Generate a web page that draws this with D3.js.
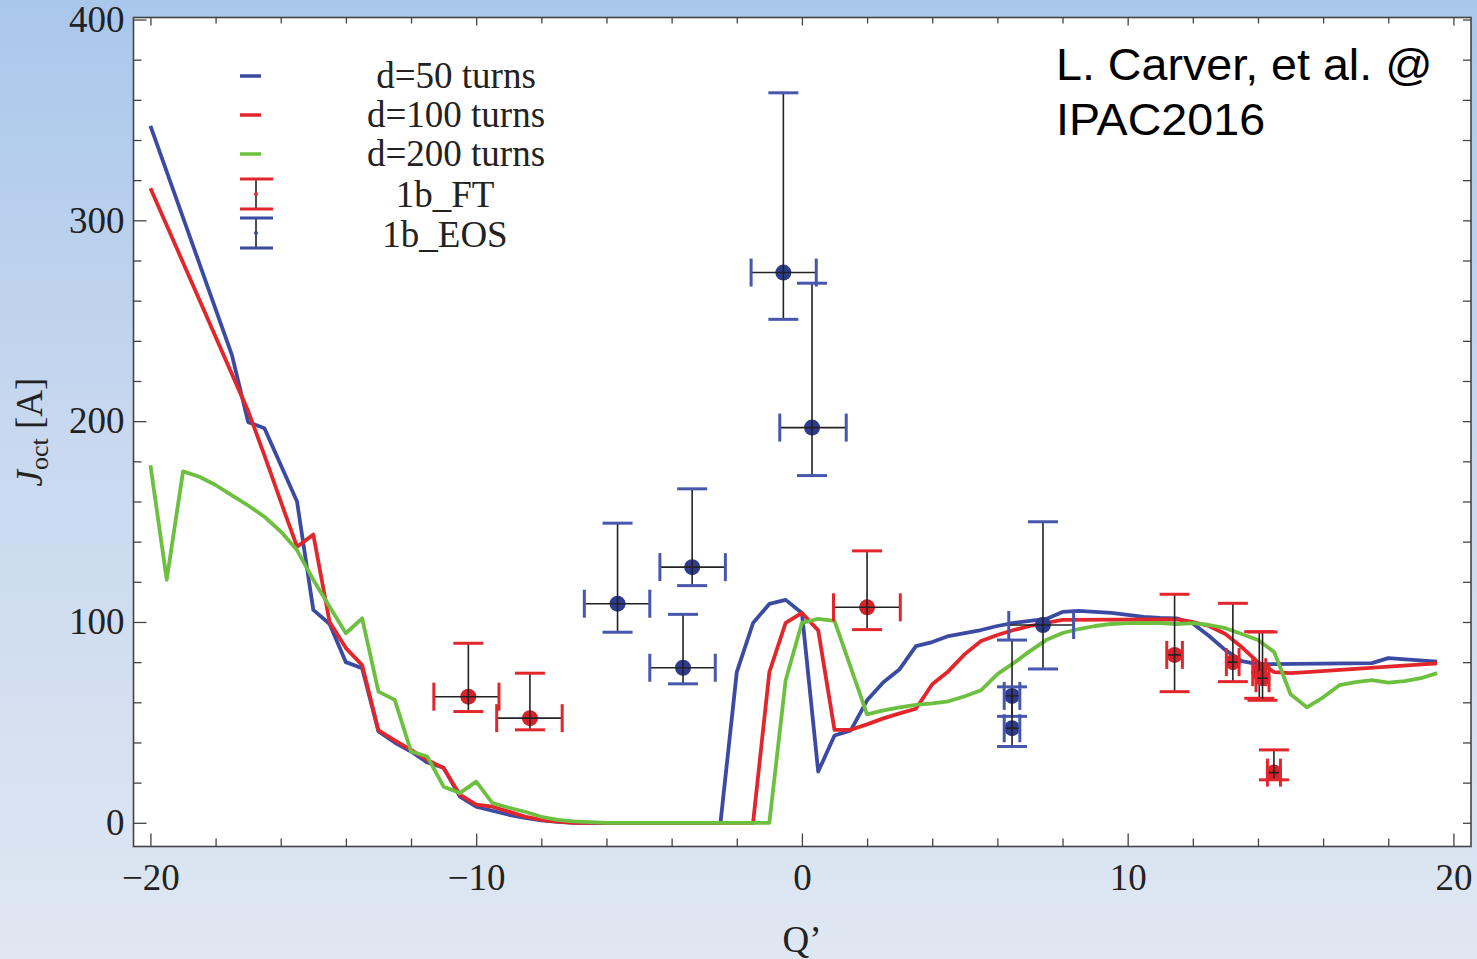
<!DOCTYPE html>
<html>
<head>
<meta charset="utf-8">
<script src="https://cdn.jsdelivr.net/npm/d3@7"></script>
<style>
  html, body { margin: 0; padding: 0; }
  body { width: 1477px; height: 959px; overflow: hidden; }
  svg { display: block; }
  .axis text { font-family: "Liberation Serif", "DejaVu Serif", serif; font-size: 37px; fill: #222; }
  .axis line { stroke: #444; stroke-width: 1.3; }
</style>
</head>
<body>
<div id="main"></div>
<script>
// simulated thresholds, Q' -> J_oct [A]
var q50 = [-20, -17.5, -17, -16.5, -15.5, -15, -14.5, -14, -13.5, -13, -12.5, -12, -11.5, -11, -10.5, -10, -9.5, -9, -8.5, -8,
           -7.5, -7, -2.5, -2, -1.5, -1, -0.5, 0, 0.5, 1, 1.5, 2, 2.5, 3, 3.5, 4, 4.5, 5, 5.5, 6,
           6.5, 7, 7.5, 8, 8.5, 9, 9.5, 10, 10.5, 11, 11.5, 12, 12.5, 13, 13.5, 14, 17.5, 18, 19.5];
var j50 = [347, 233, 199.5, 196.5, 160, 106, 99, 80, 77, 45.5, 40, 35.5, 30, 27.5, 13, 8, 6, 4, 2.5, 1.2,
           0.5, 0, 0, 75, 99.5, 109, 111, 104.5, 25.5, 43.5, 46, 61, 70, 76.5, 88, 90, 93, 94.5, 96, 98,
           99.5, 100.5, 101.5, 105, 105.5, 105, 104.5, 103.5, 102.5, 102, 101.8, 99.3, 93, 86, 80.5, 79, 79.5, 82, 80.3];

var q100 = [-20, -18, -17, -16.5, -16, -15.5, -15, -14.5, -14, -13.5, -13, -12.5, -12, -11.5, -11, -10.5, -10, -9.5, -9, -8.5,
            -8, -7.5, -7, -1.5, -1, -0.5, 0, 0.5, 1, 1.5, 2, 2.5, 3, 3.5, 4, 4.5, 5, 5.5, 6, 6.5,
            7, 7.5, 8, 11.5, 12, 12.5, 13, 13.5, 14, 14.5, 15, 15.5, 19.5];
var j100 = [316, 242, 205, 183, 160, 137.5, 143.5, 100, 87, 78.5, 46, 41, 36.3, 31.3, 27.2, 14, 9, 8, 5.6, 3.1,
            1.5, 0.6, 0, 0, 75, 99.6, 104.5, 95.8, 46.3, 46.3, 49, 52, 54.5, 56.8, 69, 75.5, 84, 90.5, 93.5, 96,
            98, 99.5, 101, 101.3, 100, 98, 94, 87.5, 80, 75, 74.5, 75, 79.4];

var q200 = [-20, -19.5, -19, -18.5, -18, -17.5, -17, -16.5, -16, -15.5, -15, -14.5, -14, -13.5, -13, -12.5, -12, -11.5, -11, -10.5,
            -10, -9.5, -9, -8.5, -8, -7.5, -7, -6.5, -6, -1, -0.5, 0, 0.5, 1, 2, 2.5, 3, 3.5, 4, 4.5,
            5, 5.5, 6, 6.5, 7, 7.5, 8, 8.5, 9, 9.5, 10, 11, 11.5, 12, 12.5, 13, 13.5, 14, 14.5, 15,
            15.5, 16, 16.5, 17, 17.5, 18, 18.5, 19, 19.5];
var j200 = [178, 121, 175, 172.3, 168.2, 163, 158, 152.4, 145, 135.8, 121, 107.6, 94.4, 101.8, 65.3, 61.2, 35.5, 33, 18, 14.8,
            20.5, 9.8, 7.5, 5.5, 3, 1.5, 0.7, 0.3, 0, 0, 71, 99.6, 101.5, 100.6, 54, 56, 57.5, 58.7, 59.5, 60.5,
            63, 66, 74, 79.5, 85.5, 91, 94.5, 96.5, 98, 99, 99.4, 99.5, 99, 99.4, 98.5, 96.9, 94, 91, 85, 64,
            57.5, 62.5, 68.5, 70, 71, 69.8, 70.5, 72, 74.5];

// measurements: centre, horizontal error range, vertical error range
var ftQ   = [-10.24, -8.35, 2.0, 11.44, 13.23, 14.04, 14.14, 14.49];
var ftJ   = [62.8, 52.1, 107.3, 83.6, 80, 75, 72, 25];
var ftQlo = [-11.3, -9.37, 0.97, 11.2, 13.03, 13.84, 13.94, 14.29];
var ftQhi = [-9.3, -7.36, 3.02, 11.68, 13.42, 14.24, 14.34, 14.69];
var ftJlo = [55.4, 46.3, 96.2, 65.3, 70.3, 62, 61, 21.4];
var ftJhi = [89.4, 74.5, 135.4, 113.8, 109.3, 95.2, 95, 36.3];

var eosQ   = [-0.57, 0.31, -5.66, -3.37, -3.65, 6.45, 6.45, 7.4];
var eosJ   = [274, 196.8, 109.1, 127.3, 77.2, 63.2, 47.1, 98.5];
var eosQlo = [-1.56, -0.68, -6.68, -4.36, -4.67, 6.21, 6.21, 6.35];
var eosQhi = [0.44, 1.36, -4.67, -2.35, -2.66, 6.69, 6.69, 8.34];
var eosJlo = [250.7, 172.9, 94.9, 118.1, 69.2, 53, 38, 76.6];
var eosJhi = [363.5, 268.7, 149.2, 166.3, 103.8, 91, 67.7, 149.9];

var xMajor = [-20, -10, 0, 10, 20];
var xMinor = [-18, -16, -14, -12, -8, -6, -4, -2, 2, 4, 6, 8, 12, 14, 16, 18];
var yMajor = [0, 100, 200, 300, 400];
var yMinor = [20, 40, 60, 80, 120, 140, 160, 180, 220, 240, 260, 280, 320, 340, 360, 380];
var legendLabels = ["d=50 turns", "d=100 turns", "d=200 turns", "1b_FT", "1b_EOS"];

var BLUE = "#3b4aa3", RED = "#e2262c", GREEN = "#6dbf3f";

function zip(q, j) { return q.map(function(v, i) { return {q: v, j: j[i]}; }); }
function points(q, j, qlo, qhi, jlo, jhi) {
    return q.map(function(v, i) { return {q: v, j: j[i], qlo: qlo[i], qhi: qhi[i], jlo: jlo[i], jhi: jhi[i]}; });
}

var svg = d3.select('#main').append('svg')
    .attr('width', 1477)
    .attr('height', 959);

var grad = svg.append("defs").append("linearGradient")
    .attr("id", "bg").attr("x1", 0).attr("y1", 0).attr("x2", 0).attr("y2", 1);
grad.append("stop").attr("offset", "0%").attr("stop-color", "#a9c7eb");
grad.append("stop").attr("offset", "45%").attr("stop-color", "#c8d8ef");
grad.append("stop").attr("offset", "100%").attr("stop-color", "#dfe7f2");

svg.append("rect").attr("width", 1477).attr("height", 959).attr("fill", "url(#bg)");

var frame = {left: 133.5, top: 17.5, right: 1471, bottom: 846.5};
var width = frame.right - frame.left,
    height = frame.bottom - frame.top;

var x = d3.scaleLinear().domain([-20.52, 20.54]).range([0, width]);
var y = d3.scaleLinear().domain([-11.8, 401]).range([height, 0]);

var g = svg.append("g").attr("transform", "translate(" + frame.left + "," + frame.top + ")");

g.append("rect").attr("width", width).attr("height", height).attr("fill", "#fff");

// ticks, all pointing inward
function noDomain(sel) { sel.select(".domain").remove(); }

g.append("g").attr("class", "axis")
    .attr("transform", "translate(0," + height + ")")
    .call(d3.axisBottom(x).tickValues(xMajor).tickSizeInner(-13).tickSizeOuter(0).tickPadding(17)
        .tickFormat(function(d) { return d < 0 ? "\u2212" + Math.abs(d) : d; }))
    .call(noDomain);
g.append("g").attr("class", "axis")
    .attr("transform", "translate(0," + height + ")")
    .call(d3.axisBottom(x).tickValues(xMinor).tickSizeInner(-8).tickSizeOuter(0).tickFormat(""))
    .call(noDomain);
g.append("g").attr("class", "axis")
    .call(d3.axisTop(x).tickValues(xMajor).tickSizeInner(-8).tickSizeOuter(0).tickFormat(""))
    .call(noDomain);
g.append("g").attr("class", "axis")
    .call(d3.axisTop(x).tickValues(xMinor).tickSizeInner(-6).tickSizeOuter(0).tickFormat(""))
    .call(noDomain);

g.append("g").attr("class", "axis")
    .call(d3.axisLeft(y).tickValues(yMajor).tickSizeInner(-13).tickSizeOuter(0).tickPadding(9))
    .call(noDomain);
g.append("g").attr("class", "axis")
    .call(d3.axisLeft(y).tickValues(yMinor).tickSizeInner(-8).tickSizeOuter(0).tickFormat(""))
    .call(noDomain);
g.append("g").attr("class", "axis")
    .attr("transform", "translate(" + width + ",0)")
    .call(d3.axisRight(y).tickValues(yMajor.concat(yMinor)).tickSizeInner(-8).tickSizeOuter(0).tickFormat(""))
    .call(noDomain);

g.append("rect").attr("width", width).attr("height", height)
    .attr("fill", "none").attr("stroke", "#444").attr("stroke-width", 1.6);

// simulation curves
var line = d3.line()
    .x(function(d) { return x(d.q); })
    .y(function(d) { return y(d.j); });

[[zip(q50, j50), BLUE], [zip(q100, j100), RED], [zip(q200, j200), GREEN]].forEach(function(s) {
    g.append("path")
        .datum(s[0])
        .attr("fill", "none")
        .attr("stroke", s[1])
        .attr("stroke-linejoin", "round")
        .attr("stroke-width", 3.8)
        .attr("d", line);
});

// error bars
function errorBars(data, col, dot) {
    var e = g.append("g").selectAll("g").data(data).enter().append("g");
    e.append("circle")
        .attr("cx", function(d) { return x(d.q); })
        .attr("cy", function(d) { return y(d.j); })
        .attr("r", 8).attr("fill", dot);
    e.append("line")
        .attr("x1", function(d) { return x(d.qlo); }).attr("x2", function(d) { return x(d.qhi); })
        .attr("y1", function(d) { return y(d.j); }).attr("y2", function(d) { return y(d.j); })
        .attr("stroke", "#222").attr("stroke-width", 1.6);
    e.append("line")
        .attr("x1", function(d) { return x(d.q); }).attr("x2", function(d) { return x(d.q); })
        .attr("y1", function(d) { return y(d.jlo); }).attr("y2", function(d) { return y(d.jhi); })
        .attr("stroke", "#222").attr("stroke-width", 1.6);
    ["qlo", "qhi"].forEach(function(k) {
        e.append("line")
            .attr("x1", function(d) { return x(d[k]); }).attr("x2", function(d) { return x(d[k]); })
            .attr("y1", function(d) { return y(d.j) - 14; }).attr("y2", function(d) { return y(d.j) + 14; })
            .attr("stroke", col).attr("stroke-width", 3);
    });
    ["jlo", "jhi"].forEach(function(k) {
        e.append("line")
            .attr("x1", function(d) { return x(d.q) - 15; }).attr("x2", function(d) { return x(d.q) + 15; })
            .attr("y1", function(d) { return y(d[k]); }).attr("y2", function(d) { return y(d[k]); })
            .attr("stroke", col).attr("stroke-width", 3);
    });
}
errorBars(points(ftQ, ftJ, ftQlo, ftQhi, ftJlo, ftJhi), RED, "#d8222a");
errorBars(points(eosQ, eosJ, eosQlo, eosQhi, eosJlo, eosJhi), "#4657ad", "#2e3b8f");

// legend
var leg = svg.append("g");
var serif = '"Liberation Serif", "DejaVu Serif", serif';
[BLUE, RED, GREEN].forEach(function(c, i) {
    leg.append("line").attr("x1", 240).attr("x2", 261)
        .attr("y1", 76 + i * 39).attr("y2", 76 + i * 39)
        .attr("stroke", c).attr("stroke-width", 3.5);
});
[[RED, 179, 209], [BLUE, 218, 248]].forEach(function(s) {
    leg.append("line").attr("x1", 256).attr("x2", 256).attr("y1", s[1]).attr("y2", s[2])
        .attr("stroke", "#222").attr("stroke-width", 1.6);
    [s[1], s[2]].forEach(function(yy) {
        leg.append("line").attr("x1", 240).attr("x2", 273).attr("y1", yy).attr("y2", yy)
            .attr("stroke", s[0]).attr("stroke-width", 3);
    });
    leg.append("circle").attr("cx", 256).attr("cy", (s[1] + s[2]) / 2).attr("r", 2).attr("fill", s[0]);
});
var legBase = [88, 127, 166, 207, 247];
legendLabels.forEach(function(t, i) {
    leg.append("text").attr("x", i < 3 ? 456 : 445).attr("y", legBase[i])
        .attr("text-anchor", "middle")
        .style("font-family", serif).style("font-size", "37px").attr("fill", "#222")
        .text(t);
});

// axis titles
svg.append("text")
    .attr("x", 802).attr("y", 952)
    .attr("text-anchor", "middle")
    .style("font-family", serif).style("font-size", "37px").attr("fill", "#222")
    .text("Q\u2019");

var yl = svg.append("text")
    .attr("transform", "translate(42,432) rotate(-90)")
    .attr("text-anchor", "middle")
    .style("font-family", serif).style("font-size", "37px").attr("fill", "#222");
yl.append("tspan").style("font-style", "italic").text("J");
yl.append("tspan").style("font-size", "26px").attr("dy", 6).text("oct");
yl.append("tspan").attr("dy", -6).text(" [A]");

// citation
["L. Carver, et al. @", "IPAC2016"].forEach(function(t, i) {
    svg.append("text")
        .attr("transform", "translate(1056," + (80 + i * 55) + ") scale(1.06,1)")
        .style("font-family", '"Liberation Sans", Arial, sans-serif').style("font-size", "44px")
        .attr("fill", "#000")
        .text(t);
});
</script>
</body>
</html>
